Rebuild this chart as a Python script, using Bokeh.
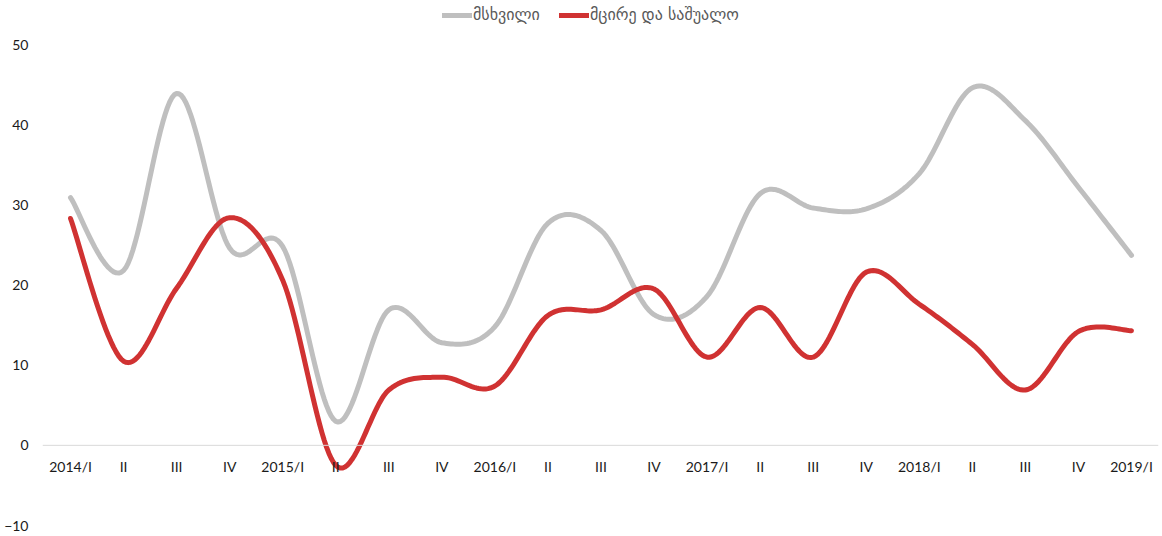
import numpy as np
from bokeh.plotting import figure
from bokeh.models import Legend, LegendItem, FixedTicker, Range1d, Span
from bokeh.core.properties import value
from bokeh.embed import file_html
from bokeh.resources import INLINE

categories = ["2014/I", "II", "III", "IV", "2015/I", "II", "III", "IV",
              "2016/I", "II", "III", "IV", "2017/I", "II", "III", "IV",
              "2018/I", "II", "III", "IV", "2019/I"]
large = [30.9, 21.8, 43.9, 24.6, 24.8, 3.0, 16.9, 12.8, 14.8, 27.7, 26.8,
         16.3, 18.6, 31.4, 29.6, 29.5, 33.9, 44.6, 40.5, 32.2, 23.7]
sme = [28.3, 10.5, 19.6, 28.4, 20.6, -2.5, 6.9, 8.5, 7.4, 16.2, 16.9,
       19.5, 11.0, 17.2, 11.0, 21.6, 17.6, 12.6, 6.9, 14.2, 14.3]
series_names = ["მსხვილი", "მცირე და საშუალო"]
y_ticks = [-10, 0, 10, 20, 30, 40, 50]


def smooth(vals, n=24):
    y = np.asarray(vals, dtype=float)
    x = np.arange(len(y), dtype=float)
    P = np.column_stack([x, y])
    Pp = np.vstack([P[0], P, P[-1]])
    out = []
    t = np.linspace(0, 1, n)[:, None]
    for i in range(len(P) - 1):
        p0, p1, p2, p3 = Pp[i], Pp[i + 1], Pp[i + 2], Pp[i + 3]
        c1 = p1 + (p2 - p0) / 6.0
        c2 = p2 - (p3 - p1) / 6.0
        seg = ((1 - t) ** 3) * p1 + 3 * ((1 - t) ** 2) * t * c1 + 3 * (1 - t) * t ** 2 * c2 + t ** 3 * p2
        out.append(seg if i == 0 else seg[1:])
    arr = np.vstack(out)
    return arr[:, 0], arr[:, 1]


p = figure(width=1162, height=536, output_backend="svg", toolbar_location=None,
           x_range=Range1d(-0.528, 20.509), y_range=Range1d(-10, 55.49),
           min_border_left=42, min_border_right=4, min_border_top=0, min_border_bottom=11)
p.outline_line_color = None
p.xgrid.grid_line_color = None
p.ygrid.grid_line_color = None
p.xaxis.visible = False

p.add_layout(Span(location=0, dimension="width", line_color="#d9d9d9", line_width=1))

gx, gy = smooth(large)
rx, ry = smooth(sme)
r1 = p.line(gx, gy, line_color="#bfbfbf", line_width=5, line_cap="round", line_join="round")
r2 = p.line(rx, ry, line_color="#d03232", line_width=5, line_cap="round", line_join="round")

# category labels under the zero line
p.text(x=list(range(len(categories))), y=[0] * len(categories), text=categories,
       y_offset=21, text_align="center", text_baseline="middle",
       text_font=value("Lato"), text_font_size="14px", text_color="#1a1a1a")

ya = p.yaxis[0]
ya.ticker = FixedTicker(ticks=y_ticks)
ya.axis_line_color = None
ya.major_tick_line_color = None
ya.minor_tick_line_color = None
ya.major_tick_out = 0
ya.major_tick_in = 0
ya.major_label_standoff = 14
ya.major_label_text_font = "Lato"
ya.major_label_text_font_size = "14px"
ya.major_label_text_color = "#1a1a1a"

legend = Legend(items=[LegendItem(label=series_names[0], renderers=[r1]),
                       LegendItem(label=series_names[1], renderers=[r2])],
                orientation="horizontal", location=(400, 501),
                label_text_font="DejaVu Sans", label_text_font_size="16px",
                label_text_color="#595959", glyph_width=30, glyph_height=16,
                spacing=19, padding=0, margin=0, label_standoff=1,
                border_line_color=None, background_fill_alpha=0)
p.add_layout(legend)

open("out.html", "w").write(file_html(p, INLINE))
